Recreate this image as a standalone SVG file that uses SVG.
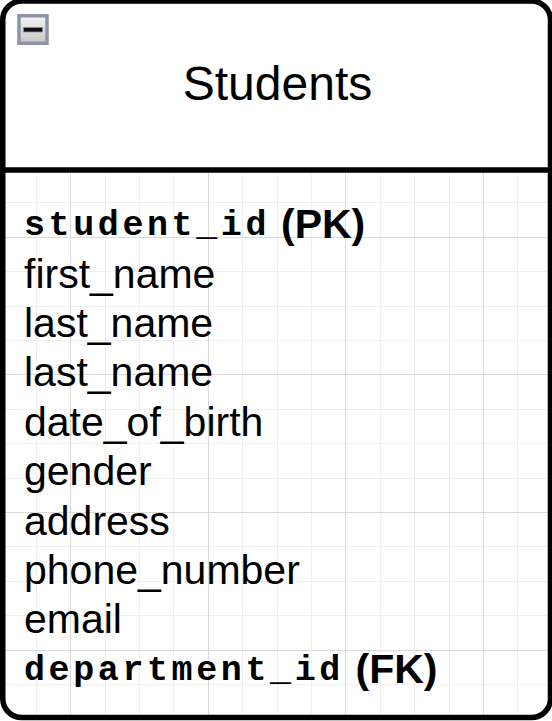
<svg xmlns="http://www.w3.org/2000/svg" width="552" height="721" viewBox="0 0 552 721">
  <style>
    .title { font-family: "Liberation Sans", Arial, sans-serif; font-size: 48px; fill: #000; }
    .row { font-family: "Liberation Sans", Arial, sans-serif; font-size: 41px; fill: #000; }
    .mono { font-family: "Liberation Mono", "Courier New", monospace; font-weight: bold; font-size: 35px; letter-spacing: 3.6px; fill: #000; }
    .bold { font-family: "Liberation Sans", Arial, sans-serif; font-weight: bold; font-size: 41px; fill: #000; }
    .gmin { stroke: #efefef; stroke-width: 1; fill: none; }
    .gmaj { stroke: #dadada; stroke-width: 1; fill: none; }
  </style>
  <defs>
    <clipPath id="bodyClip">
      <path d="M2.75,170 L550.5,170 L550.5,698.5 A19,19 0 0 1 531.5,717.5 L21.75,717.5 A19,19 0 0 1 2.75,698.5 Z"/>
    </clipPath>
    <linearGradient id="btnGrad" x1="0" y1="0" x2="0" y2="1">
      <stop offset="0" stop-color="#f4f4f4"/>
      <stop offset="1" stop-color="#c6c6c6"/>
    </linearGradient>
  </defs>
  <rect width="552" height="721" fill="#ffffff"/>
  <g id="students-table">
    <rect x="2.75" y="1" width="547.75" height="716.5" rx="19" ry="19" fill="#ffffff"/>
    <g id="grid" clip-path="url(#bodyClip)">
      <path class="gmin" d="M1.5,168V721 M36.5,168V721 M105.5,168V721 M139.5,168V721 M173.5,168V721 M242.5,168V721 M277.5,168V721 M311.5,168V721 M380.5,168V721 M414.5,168V721 M449.5,168V721 M517.5,168V721
        M0,202.5H552 M0,271.5H552 M0,306.5H552 M0,340.5H552 M0,409.5H552 M0,443.5H552 M0,478.5H552 M0,546.5H552 M0,581.5H552 M0,615.5H552 M0,684.5H552"/>
      <path class="gmaj" d="M70.5,168V721 M208.5,168V721 M345.5,168V721 M483.5,168V721
        M0,237.5H552 M0,374.5H552 M0,512.5H552 M0,650.5H552"/>
    </g>
    <rect x="2.75" y="1" width="547.75" height="716.5" rx="19" ry="19" fill="none" stroke="#000" stroke-width="5.5"/>
    <line x1="2.75" y1="170" x2="550.5" y2="170" stroke="#000" stroke-width="5.5"/>
    <g id="collapse-button">
      <rect x="19" y="15.75" width="28" height="27.5" fill="url(#btnGrad)" stroke="#8c94a8" stroke-width="3.5"/>
      <rect x="23.5" y="27.5" width="19" height="4.5" fill="#111" stroke="#8a8a8a" stroke-width="0.8"/>
    </g>
    <g id="header">
      <text class="title" x="277.5" y="99.5" text-anchor="middle">Students</text>
    </g>
    <g id="attributes">
      <text x="24" y="238.3"><tspan class="mono" y="235.3">student_id</tspan><tspan class="bold" x="281" y="238.3">(PK)</tspan></text>
      <text class="row" x="24" y="287.7">first_name</text>
      <text class="row" x="24" y="337">last_name</text>
      <text class="row" x="24" y="386.4">last_name</text>
      <text class="row" x="24" y="435.8">date_of_birth</text>
      <text class="row" x="24" y="485.2">gender</text>
      <text class="row" x="24" y="534.5">address</text>
      <text class="row" x="24" y="583.9">phone_number</text>
      <text class="row" x="24" y="633.3">email</text>
      <text x="24" y="682.7"><tspan class="mono" y="679.7">department_id</tspan><tspan class="bold" x="355.5" y="682.7">(FK)</tspan></text>
    </g>
  </g>
  <g id="connectors"/>
</svg>
